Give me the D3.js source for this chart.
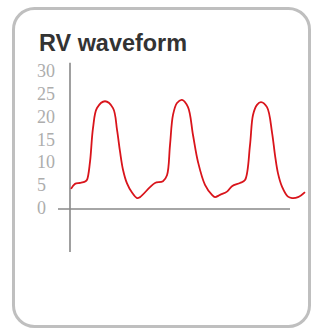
<!DOCTYPE html>
<html>
<head>
<meta charset="utf-8">
<script src="https://cdn.jsdelivr.net/npm/d3@7"></script>
<style>
  html, body { margin: 0; padding: 0; background: #fff; }
  svg { display: block; }
</style>
</head>
<body>
<svg id="chart" width="313" height="329"></svg>
<script>
// waveform samples: time (s) and pressure (mmHg)
var times = [0.01, 0.05, 0.10, 0.15, 0.17, 0.20, 0.23, 0.27, 0.35, 0.43, 0.47, 0.50, 0.53, 0.57, 0.62, 0.67, 0.70,
             0.80, 0.85, 0.93, 0.97, 1.00, 1.03, 1.07, 1.12, 1.18, 1.23, 1.28, 1.35, 1.42, 1.45, 1.50, 1.57,
             1.62, 1.70, 1.75, 1.80, 1.83, 1.87, 1.91, 1.97, 2.02, 2.05, 2.08, 2.12, 2.18, 2.22, 2.28, 2.35];
var pressure = [4.4, 5.5, 5.7, 6.0, 6.4, 10.3, 17.7, 22.1, 23.6, 22.1, 17.4, 12.6, 8.6, 5.6, 3.6, 2.4, 2.6,
                4.8, 5.7, 6.1, 7.4, 14.0, 20.6, 23.2, 23.9, 22.3, 16.2, 10.3, 5.3, 3.1, 2.6, 3.1, 3.8,
                5.0, 5.7, 6.35, 14.0, 20.6, 22.8, 23.4, 22.3, 16.8, 11.8, 7.8, 4.9, 2.7, 2.4, 2.6, 3.7];
var tickValues = [0, 5, 10, 15, 20, 25, 30];
var title = 'RV waveform';

var data = times.map((t, i) => ({t: t, v: pressure[i]}));

var svg = d3.select('#chart');

// card
svg.append('rect')
  .attr('x', 13.5).attr('y', 8.5)
  .attr('width', 296).attr('height', 318)
  .attr('rx', 21).attr('ry', 21)
  .attr('fill', '#fff')
  .attr('stroke', '#bfbfbf')
  .attr('stroke-width', 3);

svg.append('text')
  .attr('x', 39).attr('y', 51)
  .attr('font-family', 'Liberation Sans, Arial, sans-serif')
  .attr('font-weight', 'bold')
  .attr('font-size', 24)
  .attr('fill', '#333')
  .attr('textLength', 148)
  .attr('lengthAdjust', 'spacingAndGlyphs')
  .text(title);

var xScale = d3.scaleLinear().domain([0, 2.4]).range([70, 310]);
var yScale = d3.scaleLinear().domain([0, 30]).range([209, 72]);

// axes
svg.append('line')
  .attr('x1', xScale(0)).attr('x2', xScale(0))
  .attr('y1', yScale(32)).attr('y2', yScale(-9.4))
  .attr('stroke', '#888').attr('stroke-width', 1.6);

svg.append('line')
  .attr('x1', xScale(-0.12)).attr('x2', xScale(2.2))
  .attr('y1', yScale(0)).attr('y2', yScale(0))
  .attr('stroke', '#888').attr('stroke-width', 1.6);

svg.selectAll('.tick')
  .data(tickValues)
  .enter()
  .append('text')
    .classed('tick', true)
    .attr('x', 37)
    .attr('y', d => yScale(d) - 1)
    .attr('dominant-baseline', 'central')
    .attr('font-family', 'Liberation Serif, Times New Roman, serif')
    .attr('font-size', 18)
    .attr('fill', '#adadad')
    .text(d => d);

var line = d3.line()
  .x(d => xScale(d.t))
  .y(d => yScale(d.v))
  .curve(d3.curveCatmullRom.alpha(0.5));

svg.append('path')
  .datum(data)
  .attr('d', line)
  .attr('fill', 'none')
  .attr('stroke', '#d9141b')
  .attr('stroke-width', 1.8)
  .attr('stroke-linejoin', 'round');
</script>
</body>
</html>
